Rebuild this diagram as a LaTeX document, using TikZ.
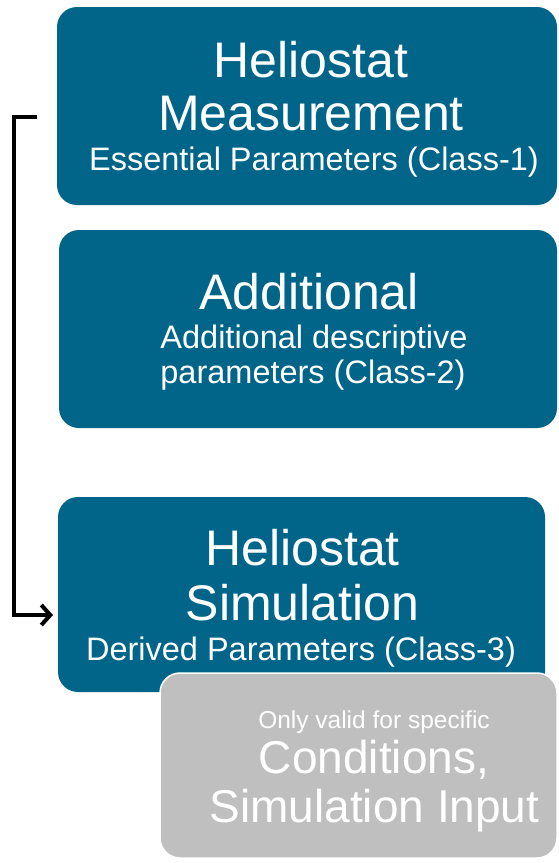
\documentclass[tikz,border=0pt]{standalone}
\usepackage{fontspec}
\setmainfont{Liberation Sans}
\usetikzlibrary{arrows.meta}
\definecolor{teal}{RGB}{0,101,137}
\definecolor{greybox}{RGB}{191,191,191}
\begin{document}
\begin{tikzpicture}[x=1pt,y=-1pt,
  bluebox/.style={fill=teal,draw=none,rounded corners=20pt,inner sep=0pt,minimum width=#1},
  greyrect/.style={fill=greybox,draw=white,line width=1.5pt,rounded corners=20pt,inner sep=0pt},
  bigtxt/.style={text=white,anchor=base,inner sep=0pt,font=\fontsize{50}{60}\selectfont},
  subtxt/.style={text=white,anchor=base,inner sep=0pt,font=\fontsize{32.5}{38}\selectfont},
  smalltxt/.style={text=white,anchor=base,inner sep=0pt,font=\fontsize{24.5}{30}\selectfont},
  midtxt/.style={text=white,anchor=base,inner sep=0pt,font=\fontsize{46}{54}\selectfont},
  link/.style={draw=black,line width=4pt,-{Straight Barb[length=9pt,width=20pt,line width=4pt]}}
]
\useasboundingbox (0,0) rectangle (558,863);
% boxes
\node[bluebox=500pt,minimum height=198pt] (box1) at (307,106) {};
\node[bluebox=498pt,minimum height=198pt] (box2) at (308,329) {};
\node[bluebox=487pt,minimum height=195pt] (box3) at (301.5,594.5) {};
\node[greyrect,minimum width=397pt,minimum height=185pt] (box4) at (358.5,765.5) {};
% box 1 text
\node[bigtxt] (t1a) at (311,77) {Heliostat};
\node[bigtxt] (t1b) at (311,130) {Measurement};
\node[subtxt] (t1c) at (314,170) {Essential Parameters (Class-1)};
% box 2 text
\node[bigtxt] (t2a) at (309,309) {Additional};
\node[subtxt] (t2b) at (314,348) {Additional descriptive};
\node[subtxt] (t2c) at (313,383) {parameters (Class-2)};
% box 3 text
\node[bigtxt] (t3a) at (302.5,565) {Heliostat};
\node[bigtxt] (t3b) at (302.5,620) {Simulation};
\node[subtxt] (t3c) at (301,660) {Derived Parameters (Class-3)};
% grey box text
\node[smalltxt] (t4a) at (374,728) {Only valid for specific};
\node[midtxt] (t4b) at (374,773) {Conditions,};
\node[midtxt] (t4c) at (374.5,822) {Simulation Input};
% bracket connector
\coordinate (bstart) at (37,117);
\coordinate (bend) at (53,615);
\draw[link] (bstart) -- (13.5,117) |- (bend);
\end{tikzpicture}
\end{document}
